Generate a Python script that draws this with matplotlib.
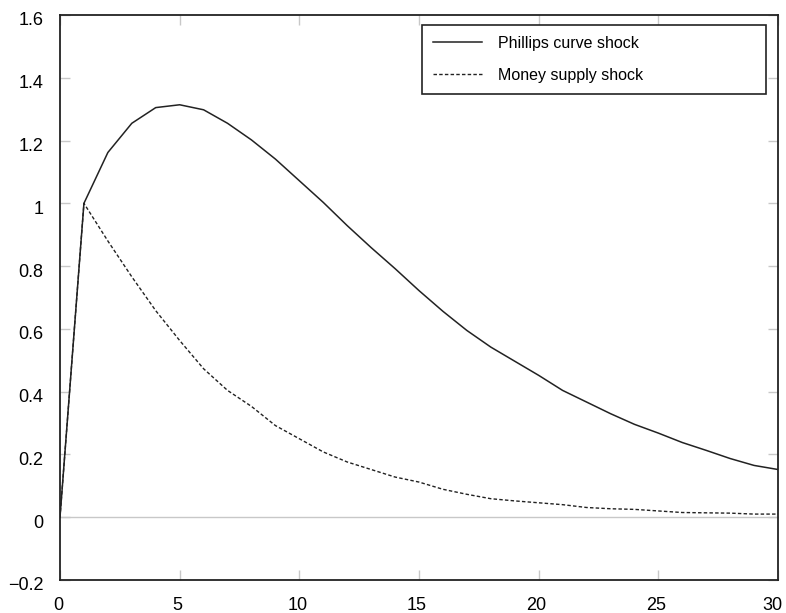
import matplotlib
matplotlib.use("Agg")
import matplotlib.pyplot as plt
import matplotlib.transforms as mtransforms
import numpy as np

periods = list(range(0, 31))
phillips = [0.0, 1.0, 1.162, 1.255, 1.305, 1.314, 1.298, 1.255, 1.202, 1.141,
            1.072, 1.003, 0.929, 0.859, 0.792, 0.722, 0.656, 0.595, 0.542, 0.497,
            0.452, 0.404, 0.367, 0.330, 0.296, 0.268, 0.238, 0.213, 0.187, 0.165,
            0.152]
money = [0.0, 1.0, 0.88, 0.766, 0.658, 0.563, 0.473, 0.404, 0.353, 0.292,
         0.250, 0.208, 0.176, 0.152, 0.128, 0.112, 0.089, 0.073, 0.059, 0.052,
         0.046, 0.040, 0.031, 0.027, 0.025, 0.020, 0.015, 0.014, 0.013, 0.010,
         0.010]
labels = ["Phillips curve shock", "Money supply shock"]
xticks = [0, 5, 10, 15, 20, 25, 30]
yticks = [-0.2, 0, 0.2, 0.4, 0.6, 0.8, 1, 1.2, 1.4, 1.6]
yticklabels = ["\u22120.2", "0", "0.2", "0.4", "0.6", "0.8", "1", "1.2", "1.4", "1.6"]

plt.rcParams['font.family'] = ['Liberation Sans', 'DejaVu Sans']

fig = plt.figure(figsize=(7.86, 6.13), dpi=100)
W, H = 786, 613
ax = fig.add_axes([60 / W, 1 - 580 / H, 718 / W, 565 / H])

ax.axhline(0, color='#c8c8c8', lw=1.0, zorder=1)
ax.plot(periods, phillips, color='#222222', lw=1.1, label=labels[0], zorder=3)
ax.plot(periods, money, color='#222222', lw=1.0, linestyle=(0, (2.5, 1.6)),
        label=labels[1], zorder=3)

ax.set_xlim(0, 30)
ax.set_ylim(-0.2, 1.6)
ax.set_xticks(xticks)
ax.set_xticklabels([str(t) for t in xticks])
ax.set_yticks(yticks)
ax.set_yticklabels(yticklabels)

ax.tick_params(axis='both', direction='in', length=7, width=1.0, color='#c8c8c8',
               labelsize=13, top=True, right=True, labelcolor='black')
ax.tick_params(axis='x', pad=12)
ax.tick_params(axis='y', pad=12)

for sp in ax.spines.values():
    sp.set_linewidth(1.3)
    sp.set_color('#222222')

# shift y tick labels slightly down, as in the reference
offset = mtransforms.ScaledTranslation(0, -4 / 100, fig.dpi_scale_trans)
for lab in ax.get_yticklabels():
    lab.set_transform(lab.get_transform() + offset)

xlabs = ax.get_xticklabels()
for i, lab in enumerate(xlabs):
    dx = -6 if i == len(xlabs) - 1 else -2
    lab.set_transform(lab.get_transform() +
                      mtransforms.ScaledTranslation(dx / 100, 0, fig.dpi_scale_trans))

leg_x0 = 421.7 / W
leg_y1 = 1 - 24.7 / H
leg_w = (766 - 421.7) / W
leg = ax.legend(loc='upper left', bbox_to_anchor=(leg_x0, leg_y1 - 0.2, leg_w, 0.2),
                bbox_transform=fig.transFigure, mode='expand', borderaxespad=0,
                fontsize=11.5, frameon=True, fancybox=False, shadow=False,
                handlelength=3.06, handletextpad=1.04, labelspacing=1.06,
                borderpad=0.69)
frame = leg.get_frame()
frame.set_edgecolor('#222222')
frame.set_linewidth(1.2)
frame.set_alpha(1)

fig.savefig("out.png", dpi=100)
